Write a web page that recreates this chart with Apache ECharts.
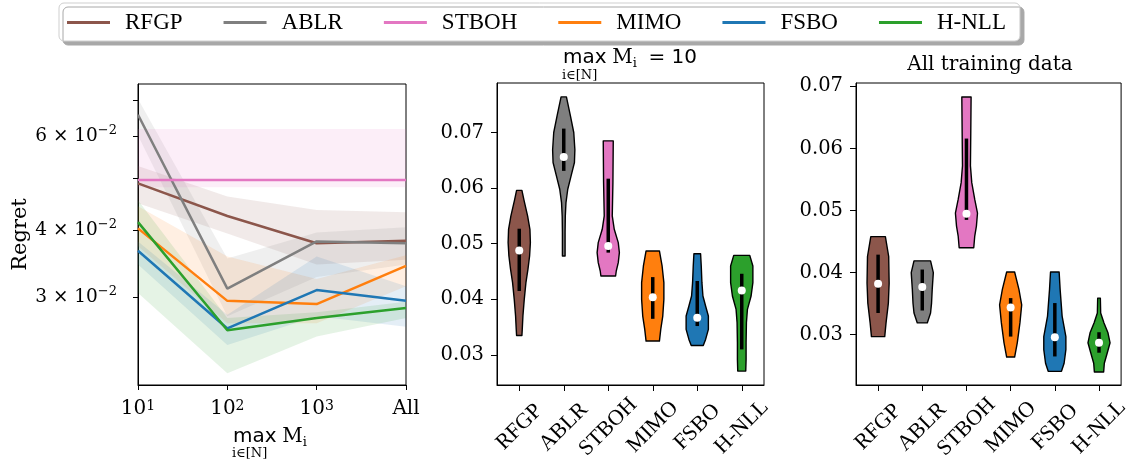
<!DOCTYPE html>
<html><head><meta charset="utf-8">
<script src="https://cdn.jsdelivr.net/npm/echarts@6/dist/echarts.min.js"></script>
<style>html,body{margin:0;padding:0;background:#fff}#c{width:1132px;height:466px}</style>
</head><body><div id="c"></div>
<script>
// ---------- shared ----------
const methods = ['RFGP', 'ABLR', 'STBOH', 'MIMO', 'FSBO', 'H-NLL'];
const colors = ['#8c564b', '#7f7f7f', '#e377c2', '#ff7f0e', '#1f77b4', '#2ca02c'];

// ---------- left panel: regret vs max M_i (log y) ----------
const xPositions = [1, 2, 3, 4];
const xTickLabels = ['10{s|1}', '10{s|2}', '10{s|3}', 'All'];
const yTickValues = [0.03, 0.04, 0.05, 0.06, 0.07];
const yLabelValues = [0.03, 0.04, 0.06];

const meanRFGP  = [0.0489, 0.0425, 0.0378, 0.0382];
const meanABLR  = [0.0657, 0.0311, 0.0381, 0.0378];
const meanSTBOH = [0.0496, 0.0496, 0.0496, 0.0496];
const meanMIMO  = [0.0403, 0.0295, 0.0291, 0.0343];
const meanFSBO  = [0.0366, 0.0262, 0.0309, 0.0295];
const meanHNLL  = [0.0414, 0.0260, 0.0274, 0.0286];

const loRFGP  = [0.0449, 0.0394, 0.0345, 0.0352];
const hiRFGP  = [0.0527, 0.0462, 0.0436, 0.0432];
const loABLR  = [0.0601, 0.0276, 0.0327, 0.0345];
const hiABLR  = [0.0703, 0.0354, 0.0396, 0.0405];
const loSTBOH = [0.0481, 0.0481, 0.0481, 0.0481];
const hiSTBOH = [0.0618, 0.0618, 0.0618, 0.0618];
const loMIMO  = [0.0373, 0.0268, 0.0268, 0.0314];
const hiMIMO  = [0.0443, 0.0357, 0.0324, 0.0359];
const loFSBO  = [0.0345, 0.0244, 0.0276, 0.0264];
const hiFSBO  = [0.0381, 0.0278, 0.0357, 0.0314];
const loHNLL  = [0.0305, 0.0216, 0.0253, 0.0274];
const hiHNLL  = [0.0455, 0.0274, 0.0281, 0.0294];

const means = [meanRFGP, meanABLR, meanSTBOH, meanMIMO, meanFSBO, meanHNLL];
const lows  = [loRFGP, loABLR, loSTBOH, loMIMO, loFSBO, loHNLL];
const highs = [hiRFGP, hiABLR, hiSTBOH, hiMIMO, hiFSBO, hiHNLL];

// ---------- middle panel: max M_i = 10 (violins) ----------
const med10 = [0.0488, 0.0656, 0.0496, 0.0404, 0.0367, 0.0416];
const q1_10 = [0.0415, 0.0631, 0.0484, 0.0365, 0.0352, 0.0310];
const q3_10 = [0.0527, 0.0707, 0.0617, 0.0440, 0.0433, 0.0446];
// violin outlines: [value, relative half width]
const v10RFGP  = [[0.0596,0.24],[0.0579,0.42],[0.0550,0.75],[0.0526,0.96],[0.0502,1.0],[0.0478,0.93],[0.0454,0.78],[0.0430,0.6],[0.0400,0.45],[0.0370,0.33],[0.0346,0.27],[0.0335,0.24]];
const v10ABLR  = [[0.0764,0.24],[0.0730,0.6],[0.0700,0.9],[0.0669,1.0],[0.0646,0.96],[0.0622,0.66],[0.0598,0.36],[0.0574,0.2],[0.0550,0.14],[0.0520,0.12],[0.0478,0.12]];
const v10STBOH = [[0.0685,0.45],[0.0610,0.42],[0.0550,0.36],[0.0526,0.54],[0.0502,0.9],[0.0484,1.0],[0.0466,0.9],[0.0451,0.72],[0.0442,0.66]];
const v10MIMO  = [[0.0487,0.6],[0.0460,0.84],[0.0430,1.0],[0.0400,1.0],[0.0370,0.9],[0.0346,0.72],[0.0325,0.6]];
const v10FSBO  = [[0.0482,0.3],[0.0460,0.36],[0.0430,0.42],[0.0406,0.51],[0.0388,0.75],[0.0370,1.0],[0.0346,1.0],[0.0328,0.75],[0.0317,0.54]];
const v10HNLL  = [[0.0479,0.72],[0.0460,1.0],[0.0430,1.0],[0.0406,0.84],[0.0382,0.51],[0.0358,0.42],[0.0322,0.39],[0.0292,0.39],[0.0271,0.36]];
const profiles10 = [v10RFGP, v10ABLR, v10STBOH, v10MIMO, v10FSBO, v10HNLL];

// ---------- right panel: all training data (violins) ----------
const medAll = [0.0382, 0.0377, 0.0495, 0.0344, 0.0296, 0.0287];
const q1All  = [0.0335, 0.0339, 0.0485, 0.0297, 0.0265, 0.0271];
const q3All  = [0.0429, 0.0405, 0.0616, 0.0359, 0.0351, 0.0304];
const vAllRFGP  = [[0.0458,0.66],[0.0426,0.96],[0.0383,1.0],[0.0351,0.93],[0.0319,0.72],[0.0297,0.6]];
const vAllABLR  = [[0.0419,0.75],[0.0400,1.0],[0.0373,0.9],[0.0351,0.84],[0.0335,0.75],[0.0319,0.45]];
const vAllSTBOH = [[0.0683,0.42],[0.0625,0.39],[0.0572,0.36],[0.0545,0.48],[0.0518,0.75],[0.0496,1.0],[0.0475,0.9],[0.0459,0.75],[0.0440,0.66]];
const vAllMIMO  = [[0.0401,0.36],[0.0373,0.75],[0.0348,1.0],[0.0319,0.84],[0.0287,0.6],[0.0264,0.36]];
const vAllFSBO  = [[0.0401,0.39],[0.0373,0.48],[0.0330,0.66],[0.0297,1.0],[0.0276,1.0],[0.0254,0.84],[0.0241,0.6]];
const vAllHNLL  = [[0.0359,0.12],[0.0335,0.15],[0.0319,0.45],[0.0303,0.81],[0.0287,1.0],[0.0271,0.75],[0.0254,0.48],[0.0240,0.42]];
const profilesAll = [vAllRFGP, vAllABLR, vAllSTBOH, vAllMIMO, vAllFSBO, vAllHNLL];

// ---------- build ----------
const SERIF = 'DejaVu Serif';
const LABELSERIF = 'Liberation Serif';
const log10 = Math.log10;

function bandRender(lo, hi, color) {
  return function (params, api) {
    if (params.dataIndex !== 0) return;
    const top = [], bot = [];
    for (let k = 0; k < xPositions.length; k++) {
      top.push(api.coord([xPositions[k], log10(hi[k])]));
      bot.push(api.coord([xPositions[k], log10(lo[k])]));
    }
    return {
      type: 'polygon',
      shape: { points: top.concat(bot.reverse()) },
      style: { fill: color, opacity: 0.12 }
    };
  };
}

function violinRender(profiles, q1, q3, med) {
  return function (params, api) {
    const i = params.dataIndex;
    const bw = api.size([1, 0])[0];
    const half = bw * 0.25;
    const right = [], left = [];
    profiles[i].forEach(function (pw) {
      const p = api.coord([i, pw[0]]);
      right.push([p[0] + half * pw[1], p[1]]);
      left.push([p[0] - half * pw[1], p[1]]);
    });
    const pts = right.concat(left.reverse());
    const a = api.coord([i, q3[i]]), b = api.coord([i, q1[i]]), m = api.coord([i, med[i]]);
    return {
      type: 'group',
      children: [
        { type: 'polygon', shape: { points: pts }, style: { fill: colors[i], stroke: '#000', lineWidth: 1.4, lineJoin: 'round' } },
        { type: 'line', shape: { x1: a[0], y1: a[1], x2: b[0], y2: b[1] }, style: { stroke: '#000', lineWidth: 3.5 } },
        { type: 'circle', shape: { cx: m[0], cy: m[1], r: 4 }, style: { fill: '#fff' } }
      ]
    };
  };
}

const series = [];
methods.forEach(function (name, i) {
  series.push({
    name: name + ' band', type: 'custom', xAxisIndex: 0, yAxisIndex: 0,
    renderItem: bandRender(lows[i], highs[i], colors[i]),
    data: xPositions.map(function (x, k) { return [x, log10(means[i][k])]; }),
    encode: { x: 0, y: 1 }, silent: true, z: 1
  });
});
methods.forEach(function (name, i) {
  series.push({
    name: name, type: 'line', xAxisIndex: 0, yAxisIndex: 0,
    data: xPositions.map(function (x, k) { return [x, log10(means[i][k])]; }),
    symbol: 'none', showSymbol: false,
    lineStyle: { color: colors[i], width: 2.5 }, itemStyle: { color: colors[i] },
    z: 3 + i, animation: false
  });
});
series.push({
  type: 'custom', name: 'violin10', xAxisIndex: 1, yAxisIndex: 1,
  renderItem: violinRender(profiles10, q1_10, q3_10, med10),
  data: methods.map(function (m, i) { return [i, med10[i]]; }), encode: { x: 0, y: 1 }
});
series.push({
  type: 'custom', name: 'violinAll', xAxisIndex: 2, yAxisIndex: 2,
  renderItem: violinRender(profilesAll, q1All, q3All, medAll),
  data: methods.map(function (m, i) { return [i, medAll[i]]; }), encode: { x: 0, y: 1 }
});

const axisLineStyle = { show: true, lineStyle: { color: '#000', width: 1 } };
const tickStyle = function (len) { return { show: true, length: len, lineStyle: { color: '#000', width: 1 } }; };

const catAxis = function (gi) {
  return {
    type: 'category', gridIndex: gi, data: methods, boundaryGap: true,
    axisLine: axisLineStyle, axisTick: Object.assign(tickStyle(6), { alignWithLabel: true, interval: 0 }),
    axisLabel: {
      interval: 0, rotate: 45, align: 'center', verticalAlign: 'middle', margin: 42,
      fontFamily: LABELSERIF, fontSize: 22, color: '#000'
    },
    splitLine: { show: false }
  };
};
const violinY = function (gi, mn, mx) {
  return {
    type: 'value', gridIndex: gi, min: mn, max: mx,
    axisLine: axisLineStyle,
    axisTick: Object.assign(tickStyle(6), { customValues: yTickValues }),
    axisLabel: {
      customValues: yTickValues, margin: 13, fontFamily: SERIF, fontSize: 19.5, color: '#000',
      formatter: function (v) { return v.toFixed(2); }
    },
    splitLine: { show: false }
  };
};

const titleRich = {
  a: { fontFamily: 'DejaVu Sans', fontSize: 20, lineHeight: 24, fontWeight: 'normal', color: '#000' },
  b: { fontFamily: SERIF, fontSize: 20, lineHeight: 24, fontWeight: 'normal', color: '#000' },
  c: { fontFamily: SERIF, fontSize: 13, lineHeight: 13, fontWeight: 'normal', verticalAlign: 'bottom', color: '#000' }
};

const option = {
  animation: false,
  backgroundColor: '#fff',
  textStyle: { fontFamily: SERIF, color: '#000' },
  legend: {
    data: methods, left: 59, top: 3,
    padding: [8, 14, 7, 8],
    icon: 'rect', itemWidth: 43, itemHeight: 3, itemGap: 41,
    textStyle: { fontFamily: LABELSERIF, fontSize: 23, color: '#000', padding: [0, 0, 0, 10], lineHeight: 22 },
    backgroundColor: '#fff', borderColor: '#cfcfcf', borderWidth: 1, borderRadius: 5,
    shadowColor: '#a8a8a8', shadowBlur: 0, shadowOffsetX: 4, shadowOffsetY: 4,
    selectedMode: false
  },
  title: [
    {
      text: '{a|max} {b|M}{c|i}  {a|= 10}', left: 563, top: 46, padding: 0,
      textStyle: { fontWeight: 'normal', rich: titleRich }
    },
    { text: 'i∈[N]', left: 562, top: 69, padding: 0, textStyle: { fontFamily: SERIF, fontSize: 13, fontWeight: 'normal', color: '#000' } },
    { text: 'All training data', left: 990, textAlign: 'center', top: 53, padding: 0,
      textStyle: { fontFamily: SERIF, fontSize: 20, fontWeight: 'normal', color: '#000', lineHeight: 24 } },
    {
      text: '{a|max} {b|M}{c|i}', left: 233, top: 425, padding: 0,
      textStyle: { fontWeight: 'normal', rich: titleRich }
    },
    { text: 'i∈[N]', left: 232, top: 447, padding: 0, textStyle: { fontFamily: SERIF, fontSize: 13, fontWeight: 'normal', color: '#000' } }
  ],
  grid: [
    { left: 138, right: 726, top: 84, bottom: 81, show: true, borderColor: '#000', borderWidth: 1, backgroundColor: 'transparent' },
    { left: 497, right: 368, top: 83, bottom: 81, show: true, borderColor: '#000', borderWidth: 1, backgroundColor: 'transparent' },
    { left: 856, right: 8, top: 83, bottom: 81, show: true, borderColor: '#000', borderWidth: 1, backgroundColor: 'transparent' }
  ],
  xAxis: [
    {
      type: 'value', gridIndex: 0, min: 1, max: 4, interval: 1,
      axisLine: axisLineStyle, axisTick: tickStyle(5),
      axisLabel: {
        margin: 14, fontFamily: SERIF, fontSize: 20, color: '#000',
        formatter: function (v) { return xTickLabels[xPositions.indexOf(v)] || ''; },
        rich: { s: { fontFamily: SERIF, fontSize: 14, lineHeight: 14, verticalAlign: 'top', color: '#000' } }
      },
      splitLine: { show: false }
    },
    catAxis(1),
    catAxis(2)
  ],
  yAxis: [
    {
      type: 'value', gridIndex: 0, min: log10(0.02054), max: log10(0.0750),
      name: 'Regret', nameLocation: 'middle', nameGap: 105, nameRotate: 90,
      nameTextStyle: { fontFamily: SERIF, fontSize: 21, color: '#000' },
      axisLine: axisLineStyle,
      axisTick: Object.assign(tickStyle(5), { customValues: yTickValues.map(log10) }),
      axisLabel: {
        customValues: yLabelValues.map(log10), margin: 21, fontFamily: SERIF, fontSize: 18, color: '#000',
        formatter: function (v) {
          const m = Math.round(Math.pow(10, v) * 100);
          return '{m|' + m + ' × 10}{s|−2}';
        },
        rich: {
          m: { fontFamily: SERIF, fontSize: 18.5, lineHeight: 24, color: '#000' },
          s: { fontFamily: SERIF, fontSize: 13, lineHeight: 13, verticalAlign: 'top', color: '#000' }
        }
      },
      splitLine: { show: false }
    },
    violinY(1, 0.0246, 0.0789),
    violinY(2, 0.0219, 0.07055)
  ],
  series: series
};

const chart = echarts.init(document.getElementById('c'), null, { renderer: 'canvas' });
chart.setOption(option);
</script>
</body></html>
